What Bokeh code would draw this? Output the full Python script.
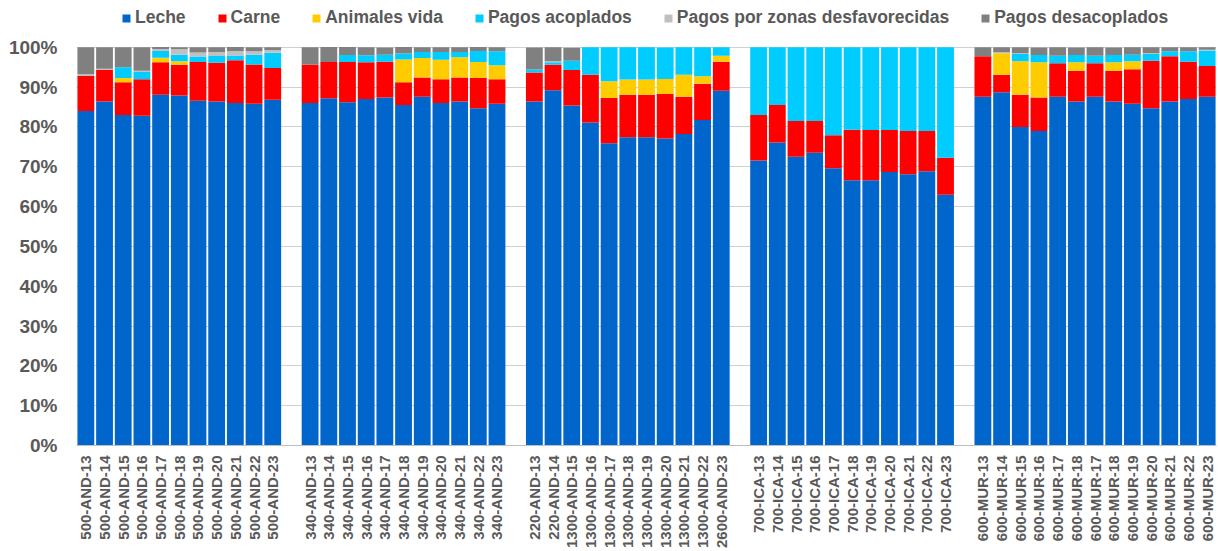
import math
from bokeh.plotting import figure
from bokeh.models import ColumnDataSource, FixedTicker, PrintfTickFormatter
from bokeh.embed import file_html
from bokeh.resources import INLINE

# ---------------- data ----------------
group_labels = [
    ["500-AND-13", "500-AND-14", "500-AND-15", "500-AND-16", "500-AND-17", "500-AND-18",
     "500-AND-19", "500-AND-20", "500-AND-21", "500-AND-22", "500-AND-23"],
    ["340-AND-13", "340-AND-14", "340-AND-15", "340-AND-16", "340-AND-17", "340-AND-18",
     "340-AND-19", "340-AND-20", "340-AND-21", "340-AND-22", "340-AND-23"],
    ["220-AND-13", "220-AND-14", "1300-AND-15", "1300-AND-16", "1300-AND-17", "1300-AND-18",
     "1300-AND-19", "1300-AND-20", "1300-AND-21", "1300-AND-22", "2600-AND-23"],
    ["700-ICA-13", "700-ICA-14", "700-ICA-15", "700-ICA-16", "700-ICA-17", "700-ICA-18",
     "700-ICA-19", "700-ICA-20", "700-ICA-21", "700-ICA-22", "700-ICA-23"],
    ["600-MUR-13", "600-MUR-14", "600-MUR-15", "600-MUR-16", "600-MUR-17", "600-MUR-18",
     "600-MUR-17", "600-MUR-18", "600-MUR-19", "600-MUR-20", "600-MUR-21", "600-MUR-22",
     "600-MUR-23"],
]

leche = [84.0, 86.4, 83.0, 82.8, 88.1, 87.9, 86.6, 86.4, 86.0, 85.8, 86.8,
         86.0, 87.2, 86.2, 87.0, 87.4, 85.5, 87.6, 86.0, 86.4, 84.7, 85.8,
         86.4, 89.2, 85.4, 81.1, 75.9, 77.4, 77.4, 77.1, 78.2, 81.75, 89.1,
         71.6, 76.1, 72.5, 73.5, 69.6, 66.6, 66.6, 68.7, 68.1, 68.9, 63.0,
         87.6, 88.7, 80.0, 79.0, 87.6, 86.4, 87.6, 86.4, 85.8, 84.7, 86.4, 87.0, 87.6]
carne = [8.8, 7.9, 8.2, 9.2, 8.15, 7.7, 9.7, 9.7, 10.75, 9.9, 8.0,
         9.6, 9.1, 10.1, 9.25, 9.0, 5.7, 4.8, 6.0, 6.0, 7.6, 6.2,
         7.3, 6.4, 8.9, 12.0, 11.35, 10.7, 10.7, 11.2, 9.4, 9.1, 7.3,
         11.4, 9.4, 9.0, 8.0, 8.3, 12.7, 12.6, 10.55, 10.9, 10.1, 9.25,
         10.15, 4.4, 8.1, 8.4, 8.4, 7.7, 8.4, 7.7, 8.7, 11.9, 11.35, 9.4, 7.7]
animales = [0, 0, 1.1, 0, 1.1, 0.9, 0, 0, 0, 0, 0,
            0, 0, 0, 0, 0, 5.75, 4.9, 4.9, 5.1, 4.0, 3.5,
            0, 0, 0, 0, 4.25, 3.8, 3.8, 3.75, 5.5, 1.9, 1.5,
            0, 0, 0, 0, 0, 0, 0, 0, 0, 0, 0,
            0, 5.4, 8.4, 8.85, 0, 2.15, 0, 2.15, 2.0, 0, 0, 0, 0]
acoplados = [0, 0, 2.7, 1.8, 1.7, 1.6, 1.4, 1.7, 1.2, 2.4, 3.8,
             0, 0, 1.75, 1.75, 1.75, 1.5, 1.5, 1.9, 1.3, 2.75, 3.5,
             0.75, 0.65, 2.3, 6.9, 8.5, 8.1, 8.1, 7.9, 6.9, 7.25, 2.1,
             17.0, 14.5, 18.5, 18.5, 22.1, 20.7, 20.8, 20.75, 21.0, 21.0, 27.75,
             0, 0, 1.8, 1.8, 1.9, 1.8, 1.9, 1.8, 1.6, 1.7, 1.25, 2.6, 3.9]
zonas = [0.4, 0.3, 0, 0.3, 0.5, 1.4, 1.0, 1.0, 1.1, 0.9, 0.7,
         0, 0, 0, 0, 0, 0, 0, 0, 0, 0, 0,
         0, 0.25, 0, 0, 0, 0, 0, 0, 0, 0, 0,
         0, 0, 0, 0, 0, 0, 0, 0, 0, 0, 0,
         0, 0.25, 0.2, 0, 0, 0, 0, 0, 0, 0.2, 0, 0, 0.2]
desacoplados = [6.8, 5.4, 5.0, 5.9, 0.5, 0.5, 1.3, 1.2, 1.0, 1.0, 0.7,
                4.4, 3.75, 2.0, 2.0, 1.8, 1.6, 1.2, 1.2, 1.2, 1.0, 1.0,
                5.5, 3.5, 3.3, 0, 0, 0, 0, 0, 0, 0, 0,
                0, 0, 0, 0, 0, 0, 0, 0, 0, 0, 0,
                2.25, 1.25, 1.5, 1.9, 2.1, 1.9, 2.1, 1.9, 1.9, 1.5, 1.0, 1.0, 0.6]

series_names = ["Leche", "Carne", "Animales vida", "Pagos acoplados",
                "Pagos por zonas desfavorecidas", "Pagos desacoplados"]
series_colors = ["#0066CC", "#FF0000", "#FFCC00", "#00CCFF", "#C0C0C0", "#808080"]
y_ticks = [0, 10, 20, 30, 40, 50, 60, 70, 80, 90, 100]

# ---------------- positions (groups separated by one empty slot) ----------------
xs, labels = [], []
pos = 0
for g in group_labels:
    for lab in g:
        xs.append(pos + 0.5)
        labels.append(lab)
        pos += 1
    pos += 1
x_end = pos - 1

keys = ["leche", "carne", "animales", "acoplados", "zonas", "desacoplados"]
src = ColumnDataSource(dict(x=xs, leche=leche, carne=carne, animales=animales,
                            acoplados=acoplados, zonas=zonas, desacoplados=desacoplados))

FONT = "Liberation Sans"
GREY = "#595959"

# frame extends above 100% (to the canvas top) to leave room for the legend
p = figure(width=1218, height=551, output_backend="svg", toolbar_location=None,
           x_range=(0, x_end), y_range=(0, 111.75),
           min_border_left=76, min_border_right=2, min_border_top=0, min_border_bottom=100)
p.outline_line_color = None

p.vbar_stack(keys, x="x", width=0.9, source=src, color=series_colors,
             line_color=None, legend_label=series_names)

# axes
p.xaxis.ticker = FixedTicker(ticks=xs)
p.xaxis.major_label_overrides = {x: lab for x, lab in zip(xs, labels)}
p.xaxis.major_label_orientation = math.pi / 2
p.xaxis.major_label_text_font = FONT
p.xaxis.major_label_text_font_style = "bold"
p.xaxis.major_label_text_font_size = "15px"
p.xaxis.major_label_text_color = GREY
p.xaxis.major_tick_line_color = None
p.xaxis.minor_tick_line_color = None
p.xaxis.major_tick_out = 0
p.xaxis.major_tick_in = 0
p.xaxis.minor_tick_out = 0
p.xaxis.axis_line_color = "#BFBFBF"
p.xaxis.major_label_standoff = 10

p.yaxis.ticker = FixedTicker(ticks=y_ticks)
p.yaxis.formatter = PrintfTickFormatter(format="%d%%")
p.yaxis.major_label_text_font = FONT
p.yaxis.major_label_text_font_style = "bold"
p.yaxis.major_label_text_font_size = "19px"
p.yaxis.major_label_text_color = GREY
p.yaxis.major_tick_line_color = None
p.yaxis.minor_tick_line_color = None
p.yaxis.major_tick_out = 0
p.yaxis.major_tick_in = 0
p.yaxis.minor_tick_out = 0
p.yaxis.axis_line_color = None
p.yaxis.major_label_standoff = 19

p.xgrid.grid_line_color = None
p.ygrid.grid_line_color = "#D0D0D0"
p.ygrid.grid_line_width = 1

# legend at the top of the (extended) frame
lg = p.legend[0]
lg.orientation = "horizontal"
lg.location = (45, 417)
lg.border_line_color = None
lg.background_fill_alpha = 0
lg.padding = 0
lg.margin = 0
lg.spacing = 31
lg.glyph_width = 10
lg.glyph_height = 10
lg.label_standoff = 4
lg.label_height = 20
lg.label_text_font = FONT
lg.label_text_font_style = "bold"
lg.label_text_font_size = "17.5px"
lg.label_text_color = GREY

open("out.html", "w").write(file_html(p, INLINE))
